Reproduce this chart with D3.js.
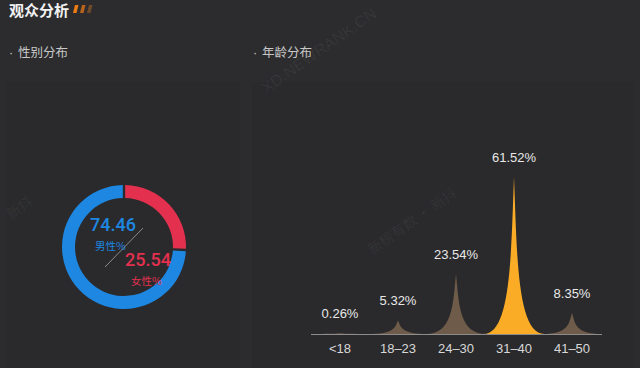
<!DOCTYPE html>
<html>
<head>
<meta charset="utf-8">
<script src="https://cdn.jsdelivr.net/npm/d3@7"></script>
<style>
  html, body { margin: 0; padding: 0; background: #2c2c2e; }
  svg { display: block; font-family: "Noto Sans CJK SC", "Noto Sans", sans-serif; }
</style>
</head>
<body>
<svg width="640" height="368"></svg>
<script>
const genderLabels = ["女性%", "男性%"];
const genderValues = [25.54, 74.46];
const genderColors = ["#e3304f", "#1d87e2"];

const ageGroups = ["<18", "18-23", "24-30", "31-40", "41-50"];
const ageValues = [0.26, 5.32, 23.54, 61.52, 8.35];
const highlightGroup = "31-40";

const svg = d3.select("svg");
const latin = "Liberation Sans, Arial, sans-serif";

// panels
svg.append("rect").attr("x", 7).attr("y", 82).attr("width", 233).attr("height", 290).attr("fill", "#2a2a2c");
svg.append("rect").attr("x", 252).attr("y", 82).attr("width", 381).attr("height", 290).attr("fill", "#2a2a2c");

// header
svg.append("text").attr("x", 9).attr("y", 16)
  .attr("fill", "#f2f2f2").attr("font-size", 15).attr("font-weight", "bold")
  .text("观众分析");
["#f07a12", "#b8621c", "#6e4a2a"].forEach((c, i) => {
  svg.append("path")
    .attr("d", `M${73 + i * 7},13 L${75 + i * 7},5 L${78.5 + i * 7},5 L${76.5 + i * 7},13 Z`)
    .attr("fill", c);
});

function subtitle(x0, label) {
  const t = svg.append("text").attr("y", 57).attr("fill", "#c8c8c8").attr("font-size", 12.5);
  t.append("tspan").attr("x", x0).style("font-family", latin).text("·");
  t.append("tspan").attr("x", x0 + 9).text(label);
}
subtitle(9, "性别分布");
subtitle(253, "年龄分布");

// watermarks
const wm = svg.append("g").attr("fill", "#ffffff").attr("fill-opacity", 0.06);
wm.append("text").attr("transform", "translate(322,55) rotate(-35)")
  .attr("text-anchor", "middle").attr("font-size", 16)
  .style("font-family", latin).text("XD.NEWRANK.CN");
wm.append("text").attr("transform", "translate(415,225) rotate(-35)")
  .attr("text-anchor", "middle").attr("font-size", 14).text("新榜有数 · 新抖");
wm.append("text").attr("transform", "translate(11,220) rotate(-35)")
  .attr("font-size", 14).text("新抖");

// donut
const cx = 124, cy = 247;
const pie = d3.pie().sort(null).padAngle(0.03);
const arc = d3.arc().innerRadius(49).outerRadius(62);
const donut = svg.append("g").attr("transform", `translate(${cx},${cy})`);
donut.selectAll("path")
  .data(pie(genderValues))
  .join("path")
  .attr("d", arc)
  .attr("fill", (d, i) => genderColors[i]);

donut.append("line")
  .attr("x1", -19).attr("y1", 20).attr("x2", 19).attr("y2", -19)
  .attr("stroke", "#8a8a8a").attr("stroke-width", 1);

const numFont = "Roboto, sans-serif";
donut.append("text").attr("x", -34).attr("y", -16)
  .attr("fill", genderColors[1]).attr("font-size", 18).attr("font-weight", 500)
  .style("font-family", numFont).text(genderValues[1].toFixed(2));
donut.append("text").attr("x", -29).attr("y", 3)
  .attr("fill", genderColors[1]).attr("font-size", 10.5).text(genderLabels[1]);
donut.append("text").attr("x", 1).attr("y", 19)
  .attr("fill", genderColors[0]).attr("font-size", 18).attr("font-weight", 500)
  .style("font-family", numFont).text(genderValues[0].toFixed(2));
donut.append("text").attr("x", 7).attr("y", 38)
  .attr("fill", genderColors[0]).attr("font-size", 10.5).text(genderLabels[0]);

// age chart
const x = d3.scaleBand().domain(ageGroups).range([311, 601]).padding(0);
const y = d3.scaleLinear().domain([0, 61.52]).range([334, 177]);

function spike(d) {
  const w = x.bandwidth() * 1.05;
  const x0 = x(d.g) + x.bandwidth() / 2 - w / 2;
  const h = y(0) - y(d.v);
  const b = y(0);
  const m = x0 + w / 2;
  return `M${x0},${b} L${x0 + w},${b} C${m + w * 0.05},${b} ${m + w * 0.05},${b - h * 0.5} ${m},${b - h} ` +
    `C${m - w * 0.05},${b - h * 0.5} ${m - w * 0.05},${b} ${x0},${b} Z`;
}

const ageData = ageGroups.map((g, i) => ({ g, v: ageValues[i] }));

svg.append("g").selectAll("path")
  .data(ageData)
  .join("path")
  .attr("d", spike)
  .attr("fill", d => d.g === highlightGroup ? "#fbac26" : "#6f5b49");

svg.append("line")
  .attr("x1", 311).attr("x2", 602).attr("y1", y(0) + 0.5).attr("y2", y(0) + 0.5)
  .attr("stroke", "#8c8c8c").attr("stroke-width", 1);

svg.append("g").selectAll("text")
  .data(ageData)
  .join("text")
  .attr("x", d => x(d.g) + x.bandwidth() / 2)
  .attr("y", d => y(d.v) - 15)
  .attr("text-anchor", "middle")
  .attr("fill", "#e8e8e8").attr("font-size", 13)
  .style("font-family", latin)
  .text(d => d.v.toFixed(2) + "%");

const xAxis = svg.append("g")
  .attr("transform", `translate(0,${y(0)})`)
  .call(d3.axisBottom(x).tickSize(0).tickPadding(10).tickFormat(d => d.replace("-", "–")));
xAxis.select(".domain").remove();
xAxis.selectAll("text")
  .attr("fill", "#d8d8d8").attr("font-size", 13)
  .style("font-family", latin);
</script>
</body>
</html>
